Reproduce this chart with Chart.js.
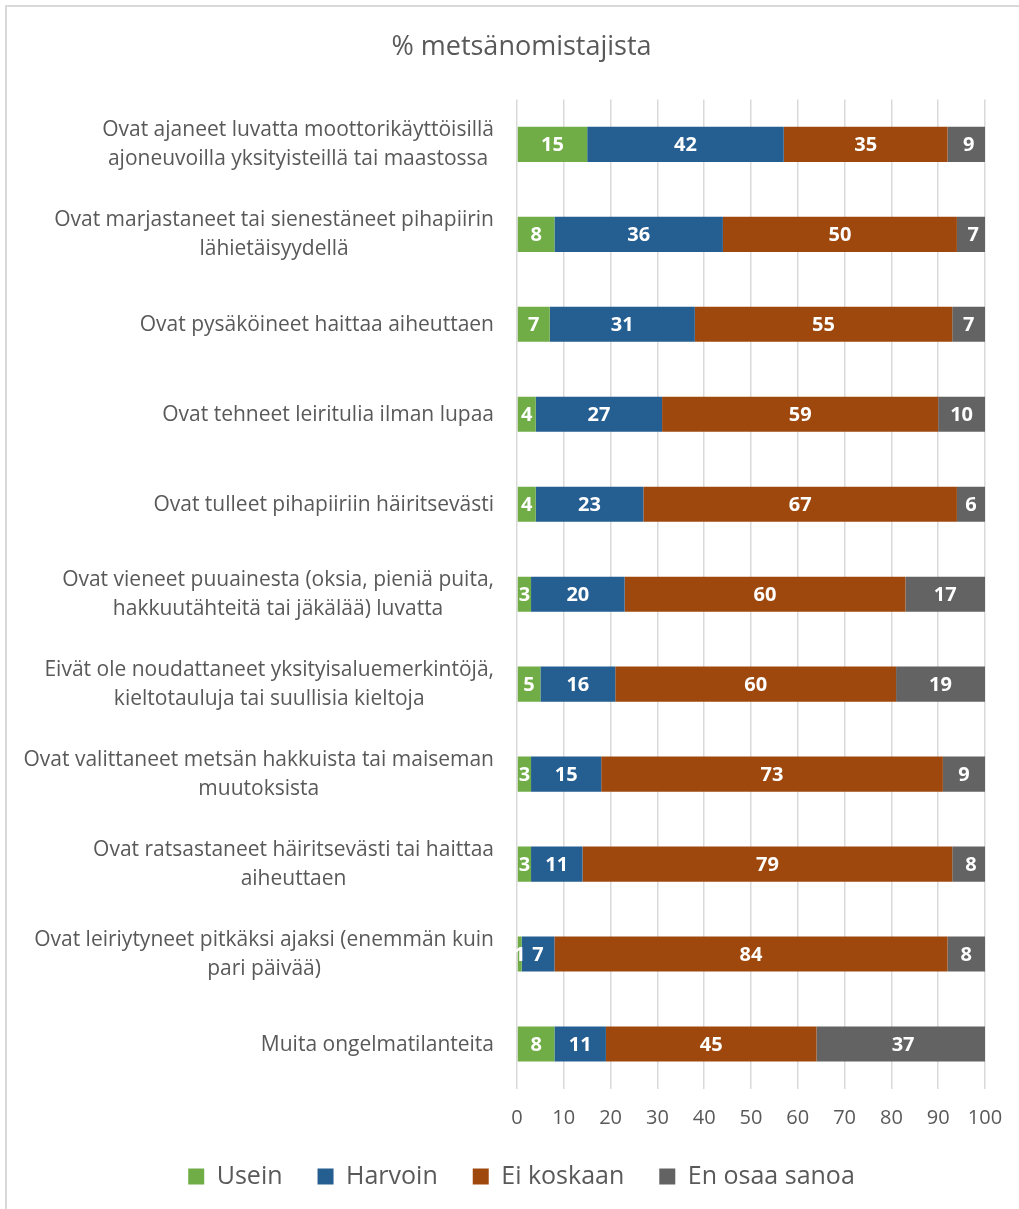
<!DOCTYPE html>
<html>
<head>
<meta charset="utf-8">
<script src="https://cdn.jsdelivr.net/npm/chart.js@4.4.1/dist/chart.umd.min.js"></script>
<style>
  html, body { margin: 0; padding: 0; background: #fff; overflow: hidden; }
  #frame { position: absolute; left: 5px; top: 5px; width: 1100px; height: 1300px; border: 2px solid #d9d9d9; }
  #wrap { position: absolute; left: 0; top: 0; width: 1019px; height: 1209px; }
</style>
</head>
<body>
<div id="frame"></div>
<div id="wrap"><canvas id="chart"></canvas></div>
<script>
// category labels, one array of lines per row
const categories = [
  ['Ovat ajaneet luvatta moottorikäyttöisillä', 'ajoneuvoilla yksityisteillä tai maastossa'],
  ['Ovat marjastaneet tai sienestäneet pihapiirin', 'lähietäisyydellä'],
  ['Ovat pysäköineet haittaa aiheuttaen'],
  ['Ovat tehneet leiritulia ilman lupaa'],
  ['Ovat tulleet pihapiiriin häiritsevästi'],
  ['Ovat vieneet puuainesta (oksia, pieniä puita,', 'hakkuutähteitä tai jäkälää) luvatta'],
  ['Eivät ole noudattaneet yksityisaluemerkintöjä,', 'kieltotauluja tai suullisia kieltoja'],
  ['Ovat valittaneet metsän hakkuista tai maiseman', 'muutoksista'],
  ['Ovat ratsastaneet häiritsevästi tai haittaa', 'aiheuttaen'],
  ['Ovat leiriytyneet pitkäksi ajaksi (enemmän kuin', 'pari päivää)'],
  ['Muita ongelmatilanteita']
];

const usein     = [15, 8, 7, 4, 4, 3, 5, 3, 3, 1, 8];
const harvoin   = [42, 36, 31, 27, 23, 20, 16, 15, 11, 7, 11];
const eiKoskaan = [35, 50, 55, 59, 67, 60, 60, 73, 79, 84, 45];
const enOsaa    = [9, 7, 7, 10, 6, 17, 19, 9, 8, 8, 37];

const seriesNames = ['Usein', 'Harvoin', 'Ei koskaan', 'En osaa sanoa'];
const xMin = 0;
const xMax = 100;
const xStep = 10;

Chart.defaults.font.family = '"Open Sans", sans-serif';
Chart.defaults.color = '#595959';

// white numbers in the middle of each segment
const valueLabels = {
  id: 'valueLabels',
  afterDatasetsDraw(chart) {
    const ctx = chart.ctx;
    ctx.save();
    ctx.font = 'bold 20px "Open Sans"';
    ctx.fillStyle = '#ffffff';
    ctx.textAlign = 'center';
    ctx.textBaseline = 'middle';
    chart.data.datasets.forEach((ds, i) => {
      chart.getDatasetMeta(i).data.forEach((bar, j) => {
        const cx = (bar.x + bar.base) / 2;
        ctx.fillText(String(ds.data[j]), cx, bar.y + 1);
      });
    });
    ctx.restore();
  }
};

// category labels: block right aligned, lines centred within the block
const categoryLabels = {
  id: 'categoryLabels',
  afterDraw(chart) {
    const scale = chart.scales.y;
    const ctx = chart.ctx;
    ctx.save();
    ctx.font = '21px "Open Sans"';
    ctx.fillStyle = '#595959';
    ctx.textAlign = 'center';
    ctx.textBaseline = 'middle';
    const right = chart.chartArea.left - 23;
    categories.forEach((lines, i) => {
      const y = scale.getPixelForValue(i);
      const widest = Math.max(...lines.map(l => ctx.measureText(l).width));
      const cx = right - widest / 2;
      lines.forEach((line, k) => {
        ctx.fillText(line, cx, y + 0.5 + (k - (lines.length - 1) / 2) * 29);
      });
    });
    ctx.restore();
  }
};

const ctx = document.getElementById('chart').getContext('2d');

new Chart(ctx, {
  type: 'bar',
  data: {
    labels: categories.map(c => c.join(' ')),
    datasets: [
      { label: seriesNames[0], data: usein, backgroundColor: '#70ad47' },
      { label: seriesNames[1], data: harvoin, backgroundColor: '#255e91' },
      { label: seriesNames[2], data: eiKoskaan, backgroundColor: '#9e480e' },
      { label: seriesNames[3], data: enOsaa, backgroundColor: '#636363' }
    ]
  },
  options: {
    indexAxis: 'y',
    responsive: true,
    maintainAspectRatio: false,
    animation: false,
    datasets: {
      bar: { categoryPercentage: 1, barPercentage: 0.39, borderWidth: 0 }
    },
    layout: { padding: { left: 58, right: 34, top: 0, bottom: 10 } },
    scales: {
      x: {
        stacked: true,
        min: xMin,
        max: xMax,
        ticks: {
          stepSize: xStep,
          padding: 21,
          color: '#595959',
          font: { size: 20, lineHeight: 0.8 }
        },
        grid: { color: '#d9d9d9', lineWidth: 1.5, drawTicks: false },
        border: { display: false },
        afterFit(scale) {
          scale.height = 40;
          scale.paddingLeft = 0;
          scale.paddingRight = 0;
        }
      },
      y: {
        stacked: true,
        ticks: { display: false },
        grid: { display: false },
        border: { display: false },
        afterFit(scale) { scale.width = 459; }
      }
    },
    plugins: {
      title: {
        display: true,
        text: '% metsänomistajista',
        color: '#595959',
        font: { size: 27, weight: 'normal' },
        padding: { top: 31, bottom: 36 }
      },
      legend: {
        position: 'bottom',
        labels: {
          boxWidth: 16,
          boxHeight: 16,
          padding: 35,
          color: '#595959',
          font: { size: 25 }
        }
      },
      tooltip: { enabled: false }
    }
  },
  plugins: [valueLabels, categoryLabels]
});
</script>
</body>
</html>
